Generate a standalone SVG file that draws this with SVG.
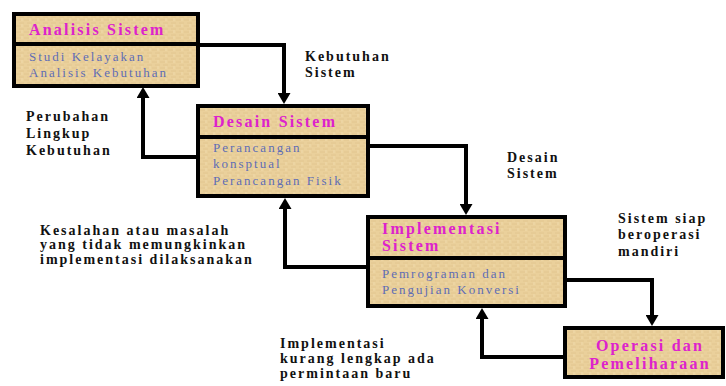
<svg xmlns="http://www.w3.org/2000/svg" width="726" height="386" viewBox="0 0 726 386">
<style>
.box{fill:url(#parch);stroke:#000;stroke-width:4}
.div{stroke:#000;stroke-width:4}
text{font-family:'Liberation Serif','Times New Roman','DejaVu Serif',serif}
.ttl{font-weight:bold;font-size:16px;fill:#DD22CC;letter-spacing:2.2px}
.bdy{font-size:13px;fill:#5E6DB5;letter-spacing:2px}
.lbl{font-weight:bold;font-size:14px;fill:#111;letter-spacing:2px}
.con{fill:none;stroke:#000;stroke-width:4;marker-end:url(#ah)}
</style>
<defs>
<pattern id="parch" width="8" height="6" patternUnits="userSpaceOnUse">
<rect width="8" height="6" fill="#EAD09B"/>
<path d="M0,2 H5 M3,5 H8" stroke="#DDBF86" stroke-width="1" opacity="0.6"/>
<path d="M6,0 V3" stroke="#F2DDB0" stroke-width="1" opacity="0.7"/>
</pattern>
<marker id="ah" markerUnits="userSpaceOnUse" markerWidth="11" markerHeight="13" viewBox="0 0 11 13" refX="1" refY="6.5" orient="auto">
<path d="M0,0 L11,6.5 L0,13 z" fill="#000"/>
</marker>
</defs>
<rect width="726" height="386" fill="#fff"/>

<g id="connectors">
<path class="con" d="M198,45 H284 V94"/>
<path class="con" d="M198,157 H143 V97"/>
<path class="con" d="M368,146 H466 V205"/>
<path class="con" d="M368,267 H285 V208"/>
<path class="con" d="M565,280 H652 V316"/>
<path class="con" d="M565,357 H482 V318"/>
</g>

<g id="analisis">
<rect class="box" x="14" y="14" width="184" height="72"/>
<line class="div" x1="14" y1="44" x2="198" y2="44"/>
<text class="ttl" x="29" y="35">Analisis Sistem</text>
<text class="bdy" x="29" y="61">Studi Kelayakan</text>
<text class="bdy" x="29" y="77">Analisis Kebutuhan</text>
</g>

<g id="desain">
<rect class="box" x="198" y="106" width="170" height="90"/>
<line class="div" x1="198" y1="137" x2="368" y2="137"/>
<text class="ttl" x="213" y="127">Desain Sistem</text>
<text class="bdy" x="213" y="152">Perancangan</text>
<text class="bdy" x="213" y="168">konsptual</text>
<text class="bdy" x="213" y="185">Perancangan Fisik</text>
</g>

<g id="implementasi">
<rect class="box" x="368" y="217" width="197" height="89"/>
<line class="div" x1="368" y1="258" x2="565" y2="258"/>
<text class="ttl" x="382" y="234">Implementasi</text>
<text class="ttl" x="382" y="251">Sistem</text>
<text class="bdy" x="382" y="278">Pemrograman dan</text>
<text class="bdy" x="382" y="294">Pengujian Konversi</text>
</g>

<g id="operasi">
<rect class="box" x="565" y="328" width="158" height="49"/>
<text class="ttl" x="650" y="351" text-anchor="middle">Operasi dan</text>
<text class="ttl" x="650" y="369" text-anchor="middle">Pemeliharaan</text>
</g>

<g id="labels">
<text class="lbl" x="305" y="61">Kebutuhan</text>
<text class="lbl" x="305" y="77">Sistem</text>
<text class="lbl" x="26" y="121">Perubahan</text>
<text class="lbl" x="26" y="138">Lingkup</text>
<text class="lbl" x="26" y="155">Kebutuhan</text>
<text class="lbl" x="507" y="162">Desain</text>
<text class="lbl" x="507" y="178">Sistem</text>
<text class="lbl" x="40" y="235">Kesalahan atau masalah</text>
<text class="lbl" x="40" y="249">yang tidak memungkinkan</text>
<text class="lbl" x="40" y="264">implementasi dilaksanakan</text>
<text class="lbl" x="618" y="223">Sistem siap</text>
<text class="lbl" x="618" y="239">beroperasi</text>
<text class="lbl" x="618" y="256">mandiri</text>
<text class="lbl" x="280" y="348">Implementasi</text>
<text class="lbl" x="280" y="363">kurang lengkap ada</text>
<text class="lbl" x="280" y="378">permintaan baru</text>
</g>
</svg>
